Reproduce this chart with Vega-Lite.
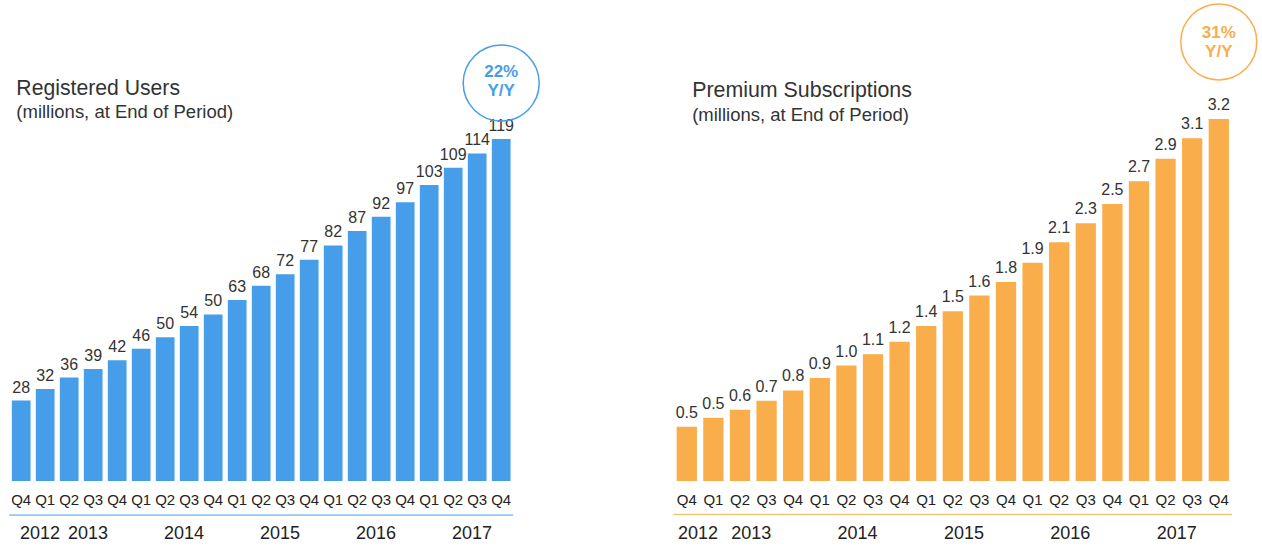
{
  "$schema": "https://vega.github.io/schema/vega-lite/v6.json",
  "padding": {"left": 8.2, "top": 0, "right": 0, "bottom": 0},
  "bounds": "flush",
  "spacing": 160.3,
  "background": "white",
  "config": {
    "view": {"stroke": null},
    "font": "Liberation Sans",
    "text": {"font": "Liberation Sans"}
  },
  "datasets": {
    "users": [
      {"period": "2012 Q4", "year": "2012", "q": "Q4", "value": 28, "label": "28"},
      {"period": "2013 Q1", "year": "2013", "q": "Q1", "value": 32, "label": "32"},
      {"period": "2013 Q2", "year": "2013", "q": "Q2", "value": 36, "label": "36"},
      {"period": "2013 Q3", "year": "2013", "q": "Q3", "value": 39, "label": "39"},
      {"period": "2013 Q4", "year": "2013", "q": "Q4", "value": 42, "label": "42"},
      {"period": "2014 Q1", "year": "2014", "q": "Q1", "value": 46, "label": "46"},
      {"period": "2014 Q2", "year": "2014", "q": "Q2", "value": 50, "label": "50"},
      {"period": "2014 Q3", "year": "2014", "q": "Q3", "value": 54, "label": "54"},
      {"period": "2014 Q4", "year": "2014", "q": "Q4", "value": 58, "label": "50"},
      {"period": "2015 Q1", "year": "2015", "q": "Q1", "value": 63, "label": "63"},
      {"period": "2015 Q2", "year": "2015", "q": "Q2", "value": 68, "label": "68"},
      {"period": "2015 Q3", "year": "2015", "q": "Q3", "value": 72, "label": "72"},
      {"period": "2015 Q4", "year": "2015", "q": "Q4", "value": 77, "label": "77"},
      {"period": "2016 Q1", "year": "2016", "q": "Q1", "value": 82, "label": "82"},
      {"period": "2016 Q2", "year": "2016", "q": "Q2", "value": 87, "label": "87"},
      {"period": "2016 Q3", "year": "2016", "q": "Q3", "value": 92, "label": "92"},
      {"period": "2016 Q4", "year": "2016", "q": "Q4", "value": 97, "label": "97"},
      {"period": "2017 Q1", "year": "2017", "q": "Q1", "value": 103, "label": "103"},
      {"period": "2017 Q2", "year": "2017", "q": "Q2", "value": 109, "label": "109"},
      {"period": "2017 Q3", "year": "2017", "q": "Q3", "value": 114, "label": "114"},
      {"period": "2017 Q4", "year": "2017", "q": "Q4", "value": 119, "label": "119"}
    ],
    "subs": [
      {"period": "2012 Q4", "year": "2012", "q": "Q4", "value": 0.48, "label": "0.5"},
      {"period": "2013 Q1", "year": "2013", "q": "Q1", "value": 0.56, "label": "0.5"},
      {"period": "2013 Q2", "year": "2013", "q": "Q2", "value": 0.63, "label": "0.6"},
      {"period": "2013 Q3", "year": "2013", "q": "Q3", "value": 0.71, "label": "0.7"},
      {"period": "2013 Q4", "year": "2013", "q": "Q4", "value": 0.80, "label": "0.8"},
      {"period": "2014 Q1", "year": "2014", "q": "Q1", "value": 0.91, "label": "0.9"},
      {"period": "2014 Q2", "year": "2014", "q": "Q2", "value": 1.02, "label": "1.0"},
      {"period": "2014 Q3", "year": "2014", "q": "Q3", "value": 1.12, "label": "1.1"},
      {"period": "2014 Q4", "year": "2014", "q": "Q4", "value": 1.23, "label": "1.2"},
      {"period": "2015 Q1", "year": "2015", "q": "Q1", "value": 1.37, "label": "1.4"},
      {"period": "2015 Q2", "year": "2015", "q": "Q2", "value": 1.50, "label": "1.5"},
      {"period": "2015 Q3", "year": "2015", "q": "Q3", "value": 1.64, "label": "1.6"},
      {"period": "2015 Q4", "year": "2015", "q": "Q4", "value": 1.76, "label": "1.8"},
      {"period": "2016 Q1", "year": "2016", "q": "Q1", "value": 1.93, "label": "1.9"},
      {"period": "2016 Q2", "year": "2016", "q": "Q2", "value": 2.11, "label": "2.1"},
      {"period": "2016 Q3", "year": "2016", "q": "Q3", "value": 2.28, "label": "2.3"},
      {"period": "2016 Q4", "year": "2016", "q": "Q4", "value": 2.45, "label": "2.5"},
      {"period": "2017 Q1", "year": "2017", "q": "Q1", "value": 2.65, "label": "2.7"},
      {"period": "2017 Q2", "year": "2017", "q": "Q2", "value": 2.85, "label": "2.9"},
      {"period": "2017 Q3", "year": "2017", "q": "Q3", "value": 3.03, "label": "3.1"},
      {"period": "2017 Q4", "year": "2017", "q": "Q4", "value": 3.20, "label": "3.2"}
    ],
    "notes_users": [
      {"title": "Registered Users", "subtitle": "(millions, at End of Period)", "growth": "22%", "basis": "Y/Y"}
    ],
    "notes_subs": [
      {"title": "Premium Subscriptions", "subtitle": "(millions, at End of Period)", "growth": "31%", "basis": "Y/Y"}
    ]
  },
  "hconcat": [
    {
      "width": 504,
      "height": 546,
      "layer": [
        {
          "data": {"name": "users"},
          "mark": {"type": "bar", "color": "#469EEA"},
          "encoding": {
            "x": {"field": "period", "type": "nominal", "sort": null, "scale": {"type": "band", "paddingInner": 0.22, "paddingOuter": 0.11}, "axis": null},
            "y": {"field": "value", "type": "quantitative", "scale": {"domain": [-22.6, 167.4], "nice": false, "zero": false}, "axis": null},
            "y2": {"datum": 0}
          }
        },
        {
          "data": {"name": "users"},
          "mark": {"type": "text", "baseline": "alphabetic", "dy": -8, "fontSize": 16, "color": "#333333"},
          "encoding": {
            "x": {"field": "period", "type": "nominal", "sort": null},
            "y": {"field": "value", "type": "quantitative"},
            "text": {"field": "label", "type": "nominal"}
          }
        },
        {
          "data": {"name": "users"},
          "mark": {"type": "text", "baseline": "alphabetic", "fontSize": 15, "color": "#222222"},
          "encoding": {
            "x": {"field": "period", "type": "nominal", "sort": null},
            "y": {"datum": -8.35},
            "text": {"field": "q", "type": "nominal"}
          }
        },
        {
          "data": {"name": "users"},
          "transform": [{"filter": "datum.q == 'Q2' || datum.period == '2012 Q4'"}],
          "mark": {"type": "text", "baseline": "alphabetic", "fontSize": 18, "color": "#222222"},
          "encoding": {
            "x": {"field": "period", "type": "nominal", "sort": null, "bandPosition": 1.5},
            "y": {"datum": -20.18},
            "text": {"field": "year", "type": "nominal"}
          }
        },
        {
          "data": {"name": "notes_users"},
          "mark": {"type": "rule", "color": "#469EEA", "strokeWidth": 1},
          "encoding": {"y": {"datum": -11.83}}
        },
        {
          "data": {"name": "notes_users"},
          "mark": {"type": "text", "align": "left", "baseline": "alphabetic", "fontSize": 21.2, "color": "#333333", "xOffset": 4.5},
          "encoding": {
            "x": {"datum": "2012 Q4", "bandPosition": 0},
            "y": {"datum": 134.3},
            "text": {"field": "title", "type": "nominal"}
          }
        },
        {
          "data": {"name": "notes_users"},
          "mark": {"type": "text", "align": "left", "baseline": "alphabetic", "fontSize": 18.5, "color": "#333333", "xOffset": 4.5},
          "encoding": {
            "x": {"datum": "2012 Q4", "bandPosition": 0},
            "y": {"datum": 126.2},
            "text": {"field": "subtitle", "type": "nominal"}
          }
        },
        {
          "data": {"name": "notes_users"},
          "mark": {"type": "point", "shape": "circle", "filled": false, "size": 5776, "stroke": "#469EEA", "strokeWidth": 1.5, "opacity": 1},
          "encoding": {
            "x": {"datum": "2017 Q4"},
            "y": {"datum": 138.5}
          }
        },
        {
          "data": {"name": "notes_users"},
          "mark": {"type": "text", "baseline": "middle", "fontSize": 17, "fontWeight": "bold", "color": "#469EEA"},
          "encoding": {
            "x": {"datum": "2017 Q4"},
            "y": {"datum": 142.5},
            "text": {"field": "growth", "type": "nominal"}
          }
        },
        {
          "data": {"name": "notes_users"},
          "mark": {"type": "text", "baseline": "middle", "fontSize": 17, "fontWeight": "bold", "color": "#469EEA"},
          "encoding": {
            "x": {"datum": "2017 Q4"},
            "y": {"datum": 135.8},
            "text": {"field": "basis", "type": "nominal"}
          }
        }
      ]
    },
    {
      "width": 558.6,
      "height": 546,
      "layer": [
        {
          "data": {"name": "subs"},
          "mark": {"type": "bar", "color": "#F9AD4B"},
          "encoding": {
            "x": {"field": "period", "type": "nominal", "sort": null, "scale": {"type": "band", "paddingInner": 0.238, "paddingOuter": 0.119}, "axis": null},
            "y": {"field": "value", "type": "quantitative", "scale": {"domain": [-0.575, 4.253], "nice": false, "zero": false}, "axis": null},
            "y2": {"datum": 0}
          }
        },
        {
          "data": {"name": "subs"},
          "mark": {"type": "text", "baseline": "alphabetic", "dy": -9, "fontSize": 16, "color": "#333333"},
          "encoding": {
            "x": {"field": "period", "type": "nominal", "sort": null},
            "y": {"field": "value", "type": "quantitative"},
            "text": {"field": "label", "type": "nominal"}
          }
        },
        {
          "data": {"name": "subs"},
          "mark": {"type": "text", "baseline": "alphabetic", "fontSize": 15, "color": "#222222"},
          "encoding": {
            "x": {"field": "period", "type": "nominal", "sort": null},
            "y": {"datum": -0.212},
            "text": {"field": "q", "type": "nominal"}
          }
        },
        {
          "data": {"name": "subs"},
          "transform": [{"filter": "datum.q == 'Q2' || datum.period == '2012 Q4'"}],
          "mark": {"type": "text", "baseline": "alphabetic", "fontSize": 18, "color": "#222222"},
          "encoding": {
            "x": {"field": "period", "type": "nominal", "sort": null, "bandPosition": 1.05},
            "y": {"datum": -0.516},
            "text": {"field": "year", "type": "nominal"}
          }
        },
        {
          "data": {"name": "notes_subs"},
          "mark": {"type": "rule", "color": "#F9AD4B", "strokeWidth": 1},
          "encoding": {"y": {"datum": -0.295}}
        },
        {
          "data": {"name": "notes_subs"},
          "mark": {"type": "text", "align": "left", "baseline": "alphabetic", "fontSize": 21.4, "color": "#333333", "xOffset": 15.5},
          "encoding": {
            "x": {"datum": "2012 Q4", "bandPosition": 0},
            "y": {"datum": 3.393},
            "text": {"field": "title", "type": "nominal"}
          }
        },
        {
          "data": {"name": "notes_subs"},
          "mark": {"type": "text", "align": "left", "baseline": "alphabetic", "fontSize": 18.5, "color": "#333333", "xOffset": 15.5},
          "encoding": {
            "x": {"datum": "2012 Q4", "bandPosition": 0},
            "y": {"datum": 3.186},
            "text": {"field": "subtitle", "type": "nominal"}
          }
        },
        {
          "data": {"name": "notes_subs"},
          "mark": {"type": "point", "shape": "circle", "filled": false, "size": 5776, "stroke": "#F9AD4B", "strokeWidth": 1.5, "opacity": 1},
          "encoding": {
            "x": {"datum": "2017 Q4"},
            "y": {"datum": 3.882}
          }
        },
        {
          "data": {"name": "notes_subs"},
          "mark": {"type": "text", "baseline": "middle", "fontSize": 17, "fontWeight": "bold", "color": "#F9AD4B"},
          "encoding": {
            "x": {"datum": "2017 Q4"},
            "y": {"datum": 3.961},
            "text": {"field": "growth", "type": "nominal"}
          }
        },
        {
          "data": {"name": "notes_subs"},
          "mark": {"type": "text", "baseline": "middle", "fontSize": 17, "fontWeight": "bold", "color": "#F9AD4B"},
          "encoding": {
            "x": {"datum": "2017 Q4"},
            "y": {"datum": 3.793},
            "text": {"field": "basis", "type": "nominal"}
          }
        }
      ]
    }
  ]
}
